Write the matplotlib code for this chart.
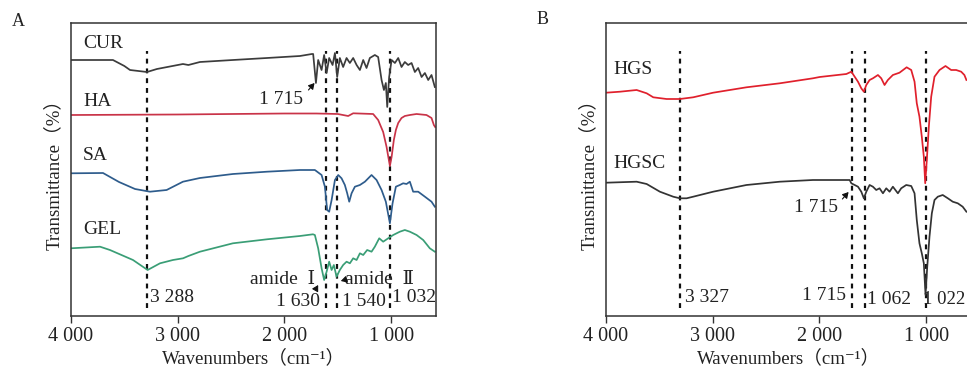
import matplotlib
matplotlib.use("Agg")
import matplotlib.pyplot as plt

SERIF = ['Liberation Serif', 'DejaVu Serif', 'Noto Sans CJK SC']
plt.rcParams['font.family'] = SERIF

# ---------------- data (wavenumber, relative transmittance offset) ----------------
cur_wn = [4000, 3607, 3500, 3447, 3288, 3195, 2951, 2900, 2792, 2483, 2164, 1855, 1743, 1731,
          1705, 1684, 1652, 1628, 1605, 1581, 1549, 1527, 1506, 1481, 1450, 1418, 1387, 1356,
          1324, 1293, 1262, 1231, 1200, 1153, 1122, 1090, 1068, 1050, 1037, 1019, 996, 965,
          934, 903, 872, 841, 809, 778, 747, 715, 684, 653, 622, 591]
cur_t = [256, 256, 250, 246, 244, 247, 252, 251, 254, 256, 258, 260, 262, 262,
         233, 256, 246, 261, 243, 258, 251, 263, 239, 258, 249, 258, 253, 258,
         251, 246, 256, 248, 258, 261, 259, 236, 226, 233, 209, 239, 256, 253,
         258, 249, 254, 251, 253, 244, 248, 239, 243, 236, 241, 229]

ha_wn = [4000, 3000, 2000, 1700, 1500, 1403, 1356, 1169, 1122, 1075, 1043, 1012, 996, 975,
         956, 934, 903, 872, 825, 762, 669, 622, 600, 588]
ha_t = [201, 201.5, 202.5, 202.5, 202, 200, 202.7, 202, 196, 184, 169, 150, 159, 176,
        186, 193, 198, 200, 201, 202, 201, 198, 191, 189]

sa_wn = [4000, 3700, 3550, 3400, 3260, 3104, 2951, 2792, 2483, 2164, 1855, 1715, 1652, 1621,
         1600, 1581, 1558, 1527, 1496, 1465, 1434, 1412, 1393, 1371, 1340, 1293, 1246, 1184,
         1137, 1090, 1050, 1012, 987, 956, 919, 888, 856, 825, 794, 747, 684, 622, 591]
sa_t = [142.7, 143, 134, 127, 124.3, 126, 134.3, 138, 142, 144.3, 146, 146, 141, 129.3,
        106, 104.3, 116, 136, 141, 137.7, 131, 122.7, 114.3, 122.7, 129.3, 131, 134.3, 141,
        136, 126, 114.3, 92.7, 112.7, 129.3, 131, 132.7, 132, 134.3, 124.3, 124.3, 119.3, 114.3, 109.3]

gel_wn = [4000, 3728, 3635, 3419, 3282, 3166, 3045, 2950, 2900, 2792, 2483, 2164, 1855, 1733,
          1715, 1684, 1652, 1628, 1605, 1581, 1558, 1537, 1512, 1481, 1450, 1418, 1387, 1356,
          1324, 1293, 1262, 1225, 1184, 1153, 1112, 1075, 1028, 981, 919, 872, 825, 762, 700,
          638, 591]
gel_t = [67.7, 69.3, 66, 56, 46, 52.7, 56, 57.7, 60, 64.3, 72.7, 76.7, 80, 81.7,
         81, 67.7, 47.7, 36, 44.3, 54.3, 46, 51, 39.3, 46, 51, 54.3, 52.7, 57.7,
         56, 62.7, 61, 66, 64.3, 69.3, 77.7, 74.3, 77.7, 81, 84.3, 86, 84.3, 81, 76,
         67.7, 64.3]

hgs_wn = [4000, 3869, 3713, 3619, 3557, 3432, 3308, 3183, 2996, 2684, 2372, 2061, 1998, 1748,
          1701, 1670, 1639, 1608, 1584, 1561, 1530, 1499, 1452, 1421, 1390, 1359, 1312, 1250,
          1183, 1140, 1109, 1088, 1063, 1041, 1022, 1009, 994, 975, 953, 922, 875, 819, 766,
          719, 672, 642, 623]
hgs_t = [223.3, 224.3, 226, 222.7, 218.7, 217, 217, 218.7, 223.3, 228.7, 232.7, 237.7, 239, 242,
         244.3, 239.3, 234.3, 227.7, 224.3, 231, 236, 237.7, 241, 237.7, 231, 236, 241, 243.3,
         248.7, 246, 234.3, 212.7, 199.3, 179.3, 159.3, 132.7, 156, 189.3, 219.3, 239.3, 246, 250, 246,
         246, 244.3, 241, 236]

hgsc_wn = [4000, 3713, 3619, 3495, 3370, 3308, 3245, 3183, 2996, 2684, 2372, 2061, 1748, 1717,
           1701, 1670, 1639, 1608, 1584, 1561, 1530, 1499, 1468, 1437, 1405, 1374, 1343, 1312,
           1265, 1234, 1187, 1140, 1109, 1088, 1063, 1041, 1022, 1006, 990, 969, 947, 922, 891,
           845, 797, 751, 704, 658, 623]
hgsc_t = [133.3, 134.3, 132, 124.3, 119.3, 117.7, 117.7, 119.3, 124.3, 131, 134.3, 136, 136, 136,
          132.7, 131, 129.3, 124.3, 117.7, 124.3, 131, 129.3, 126, 127.7, 122.7, 127.7, 124.3, 129.3,
          122.7, 127.7, 131, 130, 122.7, 96, 72.7, 62.7, 52.7, 21, 49.3, 79.3, 102.7, 116, 119.3,
          121, 117.7, 114.3, 112.7, 109.3, 104.3]

peaks_a = [3290, 1612, 1512, 1008]
peaks_b = [3305, 1692, 1577, 1000]
tick_pos = [4000, 3000, 2000, 1000]
tick_labels = ['4 000', '3 000', '2 000', '1 000']

# ---------------- figure ----------------
fig = plt.figure(figsize=(9.67, 3.82), dpi=100)
W, H = 967, 382


def make_ax(left_px):
    ax = fig.add_axes([left_px / W, 1 - 316 / H, 365 / W, 293 / H])
    ax.set_xlim(4000, 580)
    ax.set_ylim(0, 293)
    ax.set_yticks([])
    ax.set_xticks(tick_pos)
    ax.set_xticklabels(tick_labels, fontsize=14.5, color='#222222')
    ax.tick_params(axis='x', direction='out', length=5, width=1, color='#333333', pad=3)
    for s in ax.spines.values():
        s.set_color('#333333')
        s.set_linewidth(1.1)
    ax.set_xlabel('Wavenumbers（cm⁻¹）', fontsize=13.5, color='#222222', labelpad=2)
    ax.set_ylabel('Transmittance（%）', fontsize=13.5, color='#222222', labelpad=6)
    return ax


dash = dict(color='#111111', lw=1.6, linestyle=(0, (2.2, 2.2)))
txt = dict(fontsize=14, color='#222222', va='center')
arrow = dict(arrowstyle='-|>,head_length=0.35,head_width=0.2', color='#111111', lw=0.8,
             shrinkA=0, shrinkB=0)

# Panel A
axA = make_ax(71)
for p in peaks_a:
    axA.plot([p, p], [8, 265], **dash)
axA.plot(cur_wn, cur_t, color='#3c3c3c', lw=1.25)
axA.plot(ha_wn, ha_t, color='#c93348', lw=1.25)
axA.plot(sa_wn, sa_t, color='#2e5c8c', lw=1.25)
axA.plot(gel_wn, gel_t, color='#3a9e76', lw=1.25)
axA.text(3888, 272, 'CUR', ha='left', **txt)
axA.text(3888, 215, 'HA', ha='left', **txt)
axA.text(3888, 161, 'SA', ha='left', **txt)
axA.text(3888, 86, 'GEL', ha='left', **txt)
axA.text(1827, 216, '1 715', ha='right', **txt)
axA.annotate('', xy=(1718, 233), xytext=(1775, 226), arrowprops=arrow)
axA.text(3262, 19, '3 288', ha='left', **txt)
axA.text(1712, 36, 'amide  Ⅰ', ha='right', **txt)
axA.annotate('', xy=(1684, 31), xytext=(1700, 28), arrowprops=arrow)
axA.text(1668, 14, '1 630', ha='right', **txt)
axA.text(1434, 36, 'amide  Ⅱ', ha='left', **txt)
axA.annotate('', xy=(1472, 35), xytext=(1440, 36), arrowprops=arrow)
axA.text(1462, 14, '1 540', ha='left', **txt)
axA.text(993, 19, '1 032', ha='left', **txt)

# Panel B
axB = make_ax(606)
for p in peaks_b:
    axB.plot([p, p], [8, 265], **dash)
axB.plot(hgs_wn, hgs_t, color='#e0202c', lw=1.25)
axB.plot(hgsc_wn, hgsc_t, color='#333333', lw=1.25)
axB.text(3935, 246, 'HGS', ha='left', **txt)
axB.text(3935, 153, 'HGSC', ha='left', **txt)
axB.text(1830, 108, '1 715', ha='right', **txt)
axB.annotate('', xy=(1727, 124), xytext=(1785, 117), arrowprops=arrow)
axB.text(3261, 19, '3 327', ha='left', **txt)
axB.text(1755, 21, '1 715', ha='right', **txt)
axB.text(1558, 17, '1 062', ha='left', **txt)
fig.text(965 / W, 1 - 299 / H, '1 022', ha='right', fontsize=13.5, color='#222222',
         va='center')

fig.text(18 / W, 1 - 22 / H, 'A', fontsize=13, ha='center', va='center', color='#222222')
fig.text(543 / W, 1 - 20 / H, 'B', fontsize=13, ha='center', va='center', color='#222222')

fig.savefig('out.png', dpi=100)
